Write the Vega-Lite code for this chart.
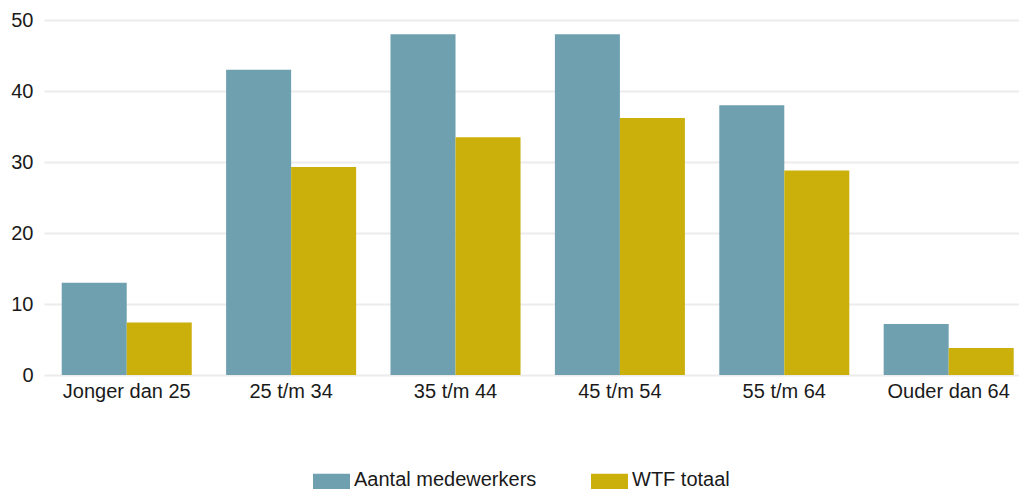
{
  "$schema": "https://vega.github.io/schema/vega-lite/v6.json",
  "autosize": {"type": "none"},
  "padding": {"left": 44, "top": 20, "right": 0, "bottom": 114},
  "width": 975,
  "height": 355,
  "background": "white",
  "data": {
    "values": [
      {"groep": "Jonger dan 25", "reeks": "Aantal medewerkers", "waarde": 13},
      {"groep": "Jonger dan 25", "reeks": "WTF totaal", "waarde": 7.4},
      {"groep": "25 t/m 34", "reeks": "Aantal medewerkers", "waarde": 43},
      {"groep": "25 t/m 34", "reeks": "WTF totaal", "waarde": 29.3},
      {"groep": "35 t/m 44", "reeks": "Aantal medewerkers", "waarde": 48},
      {"groep": "35 t/m 44", "reeks": "WTF totaal", "waarde": 33.5},
      {"groep": "45 t/m 54", "reeks": "Aantal medewerkers", "waarde": 48},
      {"groep": "45 t/m 54", "reeks": "WTF totaal", "waarde": 36.2},
      {"groep": "55 t/m 64", "reeks": "Aantal medewerkers", "waarde": 38},
      {"groep": "55 t/m 64", "reeks": "WTF totaal", "waarde": 28.8},
      {"groep": "Ouder dan 64", "reeks": "Aantal medewerkers", "waarde": 7.2},
      {"groep": "Ouder dan 64", "reeks": "WTF totaal", "waarde": 3.8}
    ]
  },
  "mark": {"type": "bar"},
  "encoding": {
    "x": {
      "field": "groep",
      "type": "nominal",
      "sort": ["Jonger dan 25", "25 t/m 34", "35 t/m 44", "45 t/m 54", "55 t/m 64", "Ouder dan 64"],
      "scale": {"paddingInner": 0.209, "paddingOuter": 0.07, "align": 0.77},
      "axis": {
        "title": null,
        "labelAngle": 0,
        "ticks": false,
        "domain": false,
        "grid": false,
        "labelFont": "Liberation Sans",
        "labelFontSize": 20,
        "labelColor": "#1a1a1a",
        "labelPadding": 22,
        "labelBaseline": "alphabetic",
        "labelLimit": 300
      }
    },
    "xOffset": {
      "field": "reeks",
      "type": "nominal",
      "scale": {"paddingInner": 0, "paddingOuter": 0}
    },
    "y": {
      "field": "waarde",
      "type": "quantitative",
      "scale": {"domain": [0, 50], "nice": false},
      "axis": {
        "title": null,
        "values": [0, 10, 20, 30, 40, 50],
        "ticks": false,
        "domain": false,
        "grid": true,
        "gridColor": "#ececec",
        "gridWidth": 2,
        "labelFont": "Liberation Sans",
        "labelFontSize": 20,
        "labelColor": "#1a1a1a",
        "labelPadding": 11
      }
    },
    "color": {
      "field": "reeks",
      "type": "nominal",
      "scale": {"domain": ["Aantal medewerkers", "WTF totaal"], "range": ["#6fa0b0", "#cbaf0b"]},
      "legend": {
        "title": null,
        "orient": "none",
        "legendX": 269,
        "legendY": 447,
        "direction": "horizontal",
        "padding": 0,
        "symbolType": "M-1,-0.65H1V0.65H-1Z",
        "symbolSize": 1369,
        "symbolStrokeWidth": 0,
        "symbolOpacity": 1,
        "labelFont": "Liberation Sans",
        "labelFontSize": 20,
        "labelColor": "#1a1a1a",
        "labelBaseline": "alphabetic",
        "labelOffset": 4,
        "labelLimit": 400,
        "columnPadding": 54
      }
    }
  },
  "config": {"view": {"stroke": null}}
}
